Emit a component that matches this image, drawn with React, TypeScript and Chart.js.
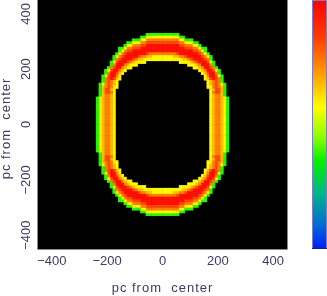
import { useEffect, useRef } from 'react';
import { Chart, registerables } from 'chart.js';

Chart.register(...registerables);

// ---- data ---------------------------------------------------------------
const AXIS_RANGE = [-450, 450];
const X_TICKS = [-400, -200, 0, 200, 400];
const Y_TICKS = [-400, -200, 0, 200, 400];
const X_TITLE = 'pc from  center';
const Y_TITLE = 'pc from  center';

// grid cell size (pc) and centre of the top row of the quarter map
const CELL_PC = 10;
const TOP_ROW_Y = 325;

// intensity of each level symbol (0-9) on the colour bar scale
const LEVEL_VALUES = [0, 0.05, 0.2, 0.38, 0.5, 0.58, 0.66, 0.75, 0.83, 0.96];

// upper-right quarter of the map; rows from y=325 down to y=5,
// columns from x=5 to x=235 (10 pc cells). '.' = empty (black)
const QUARTER_ROWS = [
  '333333..................',
  '55555533................',
  '77777755333.............',
  '8888887755533...........',
  '99999988777553..........',
  '9999999988877533........',
  '9999999999988753........',
  '77777899999998753.......',
  '555566778999998753......',
  '555555566789999873......',
  '......5555678999853.....',
  '.........5556799973.....',
  '...........556799873....',
  '.............56799853...',
  '..............5689973...',
  '...............5799853..',
  '...............5689873..',
  '................567873..',
  '................5678753.',
  '................5578763.',
  '.................568863.',
  '.................578863.',
  '.................567763.',
  '.................5677653',
  '.................5677653',
  '.................5677653',
  '.................5677653',
  '.................5677653',
  '.................5677653',
  '.................5677653',
  '.................5677653',
  '.................5677653',
  '.................5677653',
];

// colour bar
const CMAP_POS = [0, 0.1, 0.22, 0.35, 0.45, 0.57, 0.7, 0.85, 1];
const CMAP_RGB = [
  [0, 30, 255],
  [0, 110, 210],
  [0, 180, 140],
  [0, 240, 0],
  [140, 255, 0],
  [255, 255, 0],
  [255, 160, 0],
  [255, 60, 0],
  [255, 0, 0],
];

// ---- helpers ------------------------------------------------------------
function cmap(v: number): string {
  if (v <= CMAP_POS[0]) return `rgb(${CMAP_RGB[0].join(',')})`;
  for (let i = 1; i < CMAP_POS.length; i++) {
    if (v <= CMAP_POS[i]) {
      const f = (v - CMAP_POS[i - 1]) / (CMAP_POS[i] - CMAP_POS[i - 1]);
      const a = CMAP_RGB[i - 1];
      const b = CMAP_RGB[i];
      const c = a.map((ai, k) => Math.round(ai + (b[k] - ai) * f));
      return `rgb(${c.join(',')})`;
    }
  }
  return `rgb(${CMAP_RGB[CMAP_RGB.length - 1].join(',')})`;
}

type Cell = { x: number; y: number; v: number };

function buildCells(): Cell[] {
  const cells: Cell[] = [];
  QUARTER_ROWS.forEach((row, i) => {
    const y = TOP_ROW_Y - i * CELL_PC;
    for (let j = 0; j < row.length; j++) {
      const ch = row[j];
      if (ch === '.') continue;
      const v = LEVEL_VALUES[Number(ch)];
      const x = CELL_PC / 2 + j * CELL_PC;
      for (const sx of [1, -1]) {
        for (const sy of [1, -1]) {
          cells.push({ x: sx * x, y: sy * y, v });
        }
      }
    }
  });
  return cells;
}

const fmt = (v: number) => (v < 0 ? '\u2212' + Math.abs(v) : String(v));

const TEXT_COLOR = '#3c3c64';
const FONT = '13px "Liberation Sans", Arial, sans-serif';

const decorPlugin = {
  id: 'decor',
  beforeDatasetsDraw(chart: any) {
    const { ctx, chartArea: a } = chart;
    ctx.save();
    ctx.fillStyle = '#000';
    ctx.fillRect(a.left, a.top, a.right - a.left, a.bottom - a.top);
    ctx.restore();
  },
  afterDraw(chart: any) {
    const { ctx, chartArea: a, scales } = chart;
    ctx.save();
    // frame
    ctx.strokeStyle = '#8a8a8a';
    ctx.lineWidth = 1;
    ctx.beginPath();
    ctx.moveTo(a.left - 0.5, a.top);
    ctx.lineTo(a.left - 0.5, a.bottom + 0.5);
    ctx.lineTo(a.right + 0.5, a.bottom + 0.5);
    ctx.lineTo(a.right + 0.5, a.top);
    ctx.stroke();

    // tick labels
    ctx.fillStyle = TEXT_COLOR;
    ctx.font = FONT;
    ctx.textAlign = 'center';
    ctx.textBaseline = 'middle';
    X_TICKS.forEach((v) => {
      ctx.fillText(fmt(v), scales.x.getPixelForValue(v), a.bottom + 12.5);
    });
    Y_TICKS.forEach((v) => {
      ctx.save();
      ctx.translate(a.left - 12, scales.y.getPixelForValue(v));
      ctx.rotate(-Math.PI / 2);
      ctx.fillText(fmt(v), 0, 0);
      ctx.restore();
    });

    // axis titles
    ctx.textBaseline = 'alphabetic';
    try { (ctx as any).letterSpacing = '1px'; } catch (e) { /* ignore */ }
    ctx.fillText(X_TITLE, (a.left + a.right) / 2, a.bottom + 43);
    ctx.save();
    ctx.translate(10, (a.top + a.bottom) / 2 + 4);
    ctx.rotate(-Math.PI / 2);
    ctx.fillText(Y_TITLE, 0, 0);
    ctx.restore();
    try { (ctx as any).letterSpacing = '0px'; } catch (e) { /* ignore */ }

    // colour bar
    const bx = a.right + 25;
    const bw = 15;
    const g = ctx.createLinearGradient(0, a.bottom, 0, a.top);
    CMAP_POS.forEach((p, i) => g.addColorStop(p, `rgb(${CMAP_RGB[i].join(',')})`));
    ctx.fillStyle = g;
    ctx.fillRect(bx, a.top, bw, a.bottom - a.top);
    ctx.strokeStyle = '#7c7cc8';
    ctx.strokeRect(bx + 0.5, a.top + 0.5, bw - 1, a.bottom - a.top - 1);
    ctx.strokeStyle = '#20206e';
    ctx.beginPath();
    ctx.moveTo(bx, a.bottom - 0.5);
    ctx.lineTo(bx + bw, a.bottom - 0.5);
    ctx.stroke();
    ctx.restore();
  },
};

export default function App() {
  const ref = useRef<HTMLCanvasElement | null>(null);
  useEffect(() => {
    if (!ref.current) return;
    const cells = buildCells();
    const radius = (ctx: any) => {
      const s = ctx.chart.scales.x;
      const px = Math.abs(s.getPixelForValue(CELL_PC) - s.getPixelForValue(0));
      return (px + 0.5) / Math.SQRT2;
    };
    const chart = new Chart(ref.current, {
      type: 'scatter',
      data: {
        datasets: [
          {
            data: cells.map((c) => ({ x: c.x, y: c.y })),
            pointStyle: 'rect',
            pointRadius: radius,
            pointHoverRadius: radius,
            pointBorderWidth: 0,
            pointBackgroundColor: cells.map((c) => cmap(c.v)),
            showLine: false,
          } as any,
        ],
      },
      options: {
        animation: false,
        responsive: false,
        events: [],
        layout: { padding: { left: 38, right: 40, top: 0, bottom: 47 } },
        plugins: { legend: { display: false }, tooltip: { enabled: false } },
        scales: {
          x: { type: 'linear', min: AXIS_RANGE[0], max: AXIS_RANGE[1], display: false },
          y: { type: 'linear', min: AXIS_RANGE[0], max: AXIS_RANGE[1], display: false },
        },
      },
      plugins: [decorPlugin],
    });
    return () => chart.destroy();
  }, []);
  return (
    <div style={{ position: 'absolute', left: 0, top: 0, width: 327, height: 296, background: '#fff' }}>
      <canvas ref={ref} width={327} height={296} style={{ display: 'block' }} />
    </div>
  );
}
